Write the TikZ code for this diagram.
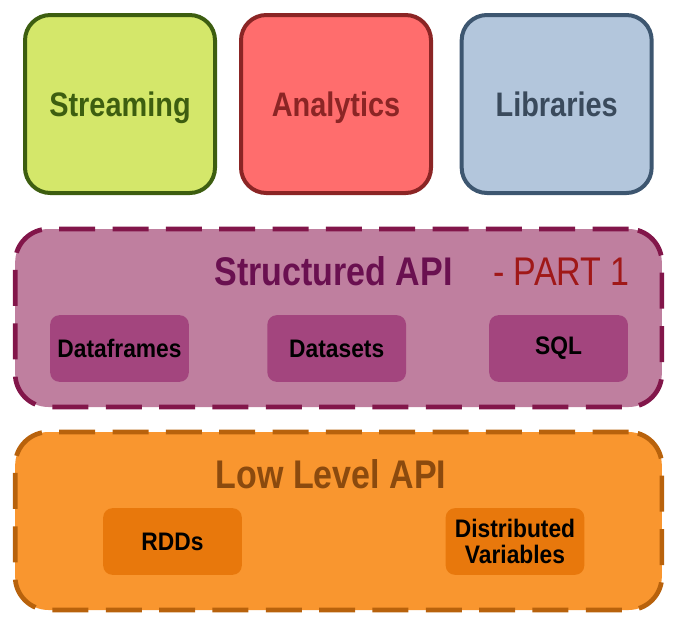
\documentclass[tikz,border=0pt]{standalone}
\usepackage{fontspec}
\setmainfont{Liberation Sans}
\newfontfamily\narrowfont{Liberation Sans}[FakeStretch=0.85]
\newfontfamily\boxfont{Liberation Sans}[FakeStretch=0.9]
\usetikzlibrary{positioning}

\definecolor{streamFill}{HTML}{D4E76A}
\definecolor{streamLine}{HTML}{3D5E10}
\definecolor{analyticsFill}{HTML}{FF6D6D}
\definecolor{analyticsLine}{HTML}{8B2525}
\definecolor{libFill}{HTML}{B3C6DC}
\definecolor{libLine}{HTML}{3D5670}
\definecolor{libText}{HTML}{3A4A5C}
\definecolor{structFill}{HTML}{BF7F9F}
\definecolor{structLine}{HTML}{82164A}
\definecolor{structText}{HTML}{6A1050}
\definecolor{partText}{HTML}{A01818}
\definecolor{structBox}{HTML}{A3457E}
\definecolor{lowFill}{HTML}{F9962F}
\definecolor{lowLine}{HTML}{B8620C}
\definecolor{lowText}{HTML}{8B4A0E}
\definecolor{lowBox}{HTML}{E8780C}

\tikzset{top node/.style={rectangle,draw,rounded corners=19pt,line width=3pt,minimum width=142.5pt,minimum height=133.5pt,text height=18pt,text depth=0pt,font=\narrowfont\bfseries\fontsize{25.5}{28}\selectfont}}
\tikzset{layer node/.style={rectangle,draw,rounded corners=25pt,line width=3.5pt,dash pattern=on 27pt off 13pt,minimum width=485pt,minimum height=133.5pt}}
\tikzset{title node/.style={anchor=base,inner sep=0pt,font=\narrowfont\bfseries\fontsize{30}{34}\selectfont}}
\tikzset{inner node/.style={rectangle,rounded corners=7pt,minimum width=104pt,minimum height=50pt,inner sep=2pt,align=center,font=\boxfont\bfseries\fontsize{19}{20}\selectfont}}

\begin{document}
\begin{tikzpicture}[x=0.75pt,y=-0.75pt]
    \useasboundingbox (0,0) rectangle (679,637);

    % top row
    \node[top node,fill=streamFill,draw=streamLine,text=streamLine] (stream) at (120,104) {Streaming};
    \node[top node,fill=analyticsFill,draw=analyticsLine,text=analyticsLine] (analytics) [right = 16.5pt of stream] {Analytics};
    \node[top node,fill=libFill,draw=libLine,text=libText] (libs) [right = 20pt of analytics] {Libraries};

    % structured api
    \node[layer node,fill=structFill,draw=structLine] (struct) at (338.5,318) {};
    \node[title node,text=structText] (structTitle) at (333.5,285) {Structured API};
    \node[title node,text=partText,font=\narrowfont\fontsize{30}{34}\selectfont] (part) at (561.5,285) {- PART 1};
    \node[inner node,fill=structBox] (frames) at (119.5,348.5) {Dataframes};
    \node[inner node,fill=structBox] (sets) [right = 58.5pt of frames] {Datasets};
    \node[inner node,fill=structBox] (sql) [right = 62pt of sets] {SQL};

    % low level api
    \node[layer node,fill=lowFill,draw=lowLine] (low) at (338.5,521) {};
    \node[title node,text=lowText] (lowTitle) at (331,488) {Low Level API};
    \node[inner node,fill=lowBox] (rdd) at (172.5,541.5) {RDDs};
    \node[inner node,fill=lowBox] (dvars) at (515,541.5) {Distributed\\Variables};
\end{tikzpicture}
\end{document}
